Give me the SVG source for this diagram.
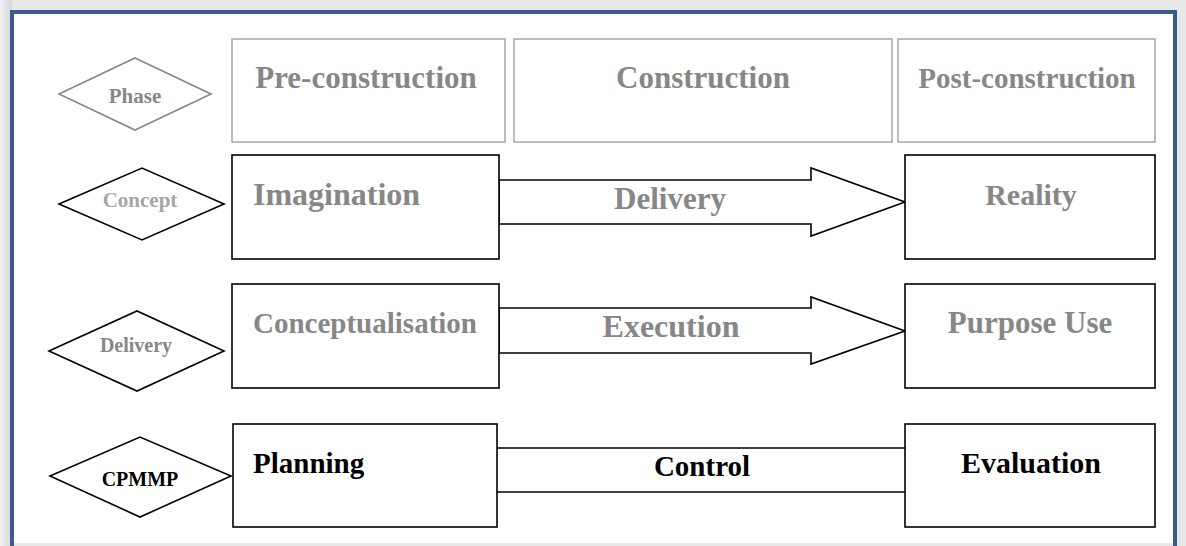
<svg xmlns="http://www.w3.org/2000/svg" width="1186" height="546" viewBox="0 0 1186 546">
<defs>
<linearGradient id="shadeL" x1="0" y1="0" x2="1" y2="0">
<stop offset="0" stop-color="#f2f2f2"/>
<stop offset="1" stop-color="#d6d6d6"/>
</linearGradient>
</defs>
<style>
.hdr{fill:#ffffff;stroke:#a6a6a6;stroke-width:1.5}
.box{fill:#ffffff;stroke:#000000;stroke-width:1.6}
.dia{fill:#ffffff;stroke:#000000;stroke-width:1.6}
.arr{fill:#ffffff;stroke:#000000;stroke-width:1.6;stroke-linejoin:miter}
.g{font-family:"Liberation Serif","Times New Roman",serif;font-weight:bold;fill:#878787}
.k{font-family:"Liberation Serif","Times New Roman",serif;font-weight:bold;fill:#000000}
.mid{text-anchor:middle}
</style>
<rect x="0" y="0" width="1186" height="546" fill="#e8e8e8"/>
<rect x="0" y="0" width="12" height="546" fill="url(#shadeL)"/>
<rect x="12" y="12" width="1163" height="531" fill="#ffffff"/>
<path d="M12,546 V12 H1175 V546" fill="none" stroke="#385d8a" stroke-width="4"/>

<g id="connectors">
<polygon class="arr" points="499,180 811,180 811,168 905,202 811,236 811,224 499,224"/>
<polygon class="arr" points="499,308 811,308 811,297 905,331 811,364 811,353 499,353"/>
<line x1="497" y1="448" x2="905" y2="448" stroke="#000" stroke-width="1.6"/>
<line x1="497" y1="492" x2="905" y2="492" stroke="#000" stroke-width="1.6"/>
<text class="g mid" x="670" y="209" font-size="31">Delivery</text>
<text class="g mid" x="671" y="337" font-size="32">Execution</text>
<text class="k mid" x="702" y="476" font-size="29">Control</text>
</g>

<g id="phase">
<polygon points="59,94 135,58 211,94 135,130" fill="#fff" stroke="#888888" stroke-width="1.6"/>
<text class="g mid" x="135" y="103" font-size="21">Phase</text>
</g>
<g id="pre-construction">
<rect class="hdr" x="232" y="39" width="273" height="103"/>
<text class="g mid" x="366" y="88" font-size="31">Pre-construction</text>
</g>
<g id="construction">
<rect class="hdr" x="514" y="39" width="378" height="103"/>
<text class="g mid" x="703" y="88" font-size="31">Construction</text>
</g>
<g id="post-construction">
<rect class="hdr" x="898" y="39" width="257" height="103"/>
<text class="g mid" x="1027" y="88" font-size="29">Post-construction</text>
</g>

<g id="concept">
<polygon class="dia" points="59,204 142,168 224,204 142,240"/>
<text class="g mid" x="140" y="207" font-size="21" style="fill:#a6a6a6">Concept</text>
</g>
<g id="imagination">
<rect class="box" x="232" y="155" width="267" height="104"/>
<text class="g" x="253" y="205" font-size="32">Imagination</text>
</g>
<g id="reality">
<rect class="box" x="905" y="155" width="250" height="104"/>
<text class="g mid" x="1031" y="205" font-size="30">Reality</text>
</g>

<g id="delivery">
<polygon class="dia" points="49,351 137,311 224,351 137,391"/>
<text class="g mid" x="136" y="352" font-size="20">Delivery</text>
</g>
<g id="conceptualisation">
<rect class="box" x="232" y="284" width="267" height="104"/>
<text class="g" x="253" y="333" font-size="29">Conceptualisation</text>
</g>
<g id="purpose-use">
<rect class="box" x="905" y="284" width="250" height="104"/>
<text class="g mid" x="1030" y="333" font-size="31">Purpose Use</text>
</g>

<g id="cpmmp">
<polygon class="dia" points="50,476 140,437 231,476 140,517"/>
<text class="k mid" x="140" y="486" font-size="20">CPMMP</text>
</g>
<g id="planning">
<rect class="box" x="233" y="424" width="264" height="103"/>
<text class="k" x="253" y="473" font-size="29">Planning</text>
</g>
<g id="evaluation">
<rect class="box" x="905" y="424" width="250" height="103"/>
<text class="k mid" x="1031" y="473" font-size="30">Evaluation</text>
</g>
</svg>
